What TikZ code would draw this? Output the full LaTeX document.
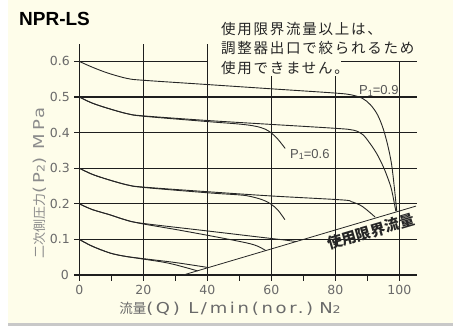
\documentclass[tikz,border=0pt]{standalone}
\usepackage{fontspec}
\setmainfont{Liberation Sans}
\newfontfamily\jp{Noto Sans CJK JP}
\newfontfamily\jpsp[LetterSpace=12]{Noto Sans CJK JP}
\newfontfamily\lab{DejaVu Sans}
\newfontfamily\labsp[LetterSpace=15]{DejaVu Sans}
\definecolor{cream}{HTML}{FEFDEA}
\definecolor{shadowc}{HTML}{C8C8C8}
\definecolor{gridc}{HTML}{1E1E1E}
\definecolor{curvec}{HTML}{262626}
\definecolor{labc}{HTML}{6A6A6A}
\definecolor{ylabc}{HTML}{8C8C8C}
\definecolor{notec}{HTML}{262626}
\begin{document}
\begin{tikzpicture}[x=1pt,y=-1pt,
  gridline/.style={line width=1.2pt, draw=gridc, line cap=rect},
  curve/.style={line width=0.9pt, draw=curvec, line cap=round},
  limitline/.style={line width=0.8pt, draw=curvec},
  ticklab/.style={text=labc, font=\lab\fontsize{12.5}{12.5}\selectfont, inner sep=0pt},
  plab/.style={text=labc!80!black, font=\fontsize{13}{13}\selectfont, inner sep=0pt}]
\useasboundingbox (0,0) rectangle (453,326);
\fill[white] (0,0) rectangle (453,326);
\fill[cream] (8,0) rectangle (453,323);
\fill[shadowc] (8,323) rectangle (453,326);

\begin{scope}[shift={(79.3pt,-275pt)}, x=3.2pt, y=356pt]
  % horizontal grid lines
  \foreach \v in {0.1,0.2,0.3,0.4,0.5}
    \draw[gridline] (-1.6,\v) -- (105.2,\v);
  \draw[gridline] (-1.6,0) -- (105.2,0);
  \draw[gridline] (-1.6,0.6) -- (40,0.6);
  \draw[gridline] (82.1,0.6) -- (105.2,0.6);
  % vertical grid lines
  \foreach \u in {0,20,40}
    \draw[gridline] (\u,-0.014) -- (\u,0.646);
  \foreach \u in {60,80}
    \draw[gridline] (\u,-0.014) -- (\u,0.557);
  \draw[gridline] (100,-0.014) -- (100,0.6);
  \foreach \u in {10,30,50,70,90}
    \draw[gridline] (\u,-0.014) -- (\u,0);
  % limit line
  \coordinate (limA) at (32.5,0);
  \coordinate (limB) at (105.2,0.1935);
  \draw[limitline] (limA) -- (limB);
  % curves
  \draw[curve] plot[smooth, tension=0.55] coordinates {(0,0.6) (4,0.584) (9,0.567) (15,0.552) (20,0.547) (40,0.535) (60,0.523) (80,0.511) (85,0.506) (88.5,0.496) (91,0.478) (93.2,0.450) (95,0.41) (96.5,0.36) (97.6,0.31) (98.4,0.25) (99.2,0.18)};
  \draw[curve] plot[smooth, tension=0.55] coordinates {(0,0.5) (4,0.483) (9,0.468) (15,0.453) (20,0.447) (40,0.434) (60,0.423) (80,0.412) (85.6,0.407) (88.5,0.395) (90.8,0.37) (93,0.34) (95,0.304) (96.5,0.27) (97.6,0.239) (98.9,0.18)};
  \draw[curve] plot[smooth, tension=0.55] coordinates {(0,0.5) (4,0.483) (9,0.468) (15,0.453) (20,0.446) (40,0.431) (50,0.424) (55,0.418) (58,0.41) (60,0.399) (62,0.382) (64.3,0.356)};
  \draw[curve] plot[smooth, tension=0.55] coordinates {(0,0.3) (4,0.283) (9,0.268) (15,0.253) (20,0.247) (40,0.234) (60,0.222) (82,0.211) (85,0.206) (88,0.195) (90.5,0.178) (92.4,0.163)};
  \draw[curve] plot[smooth, tension=0.55] coordinates {(0,0.3) (4,0.283) (9,0.268) (15,0.253) (20,0.246) (40,0.231) (50,0.225) (53.3,0.221) (57,0.212) (59.6,0.201) (62,0.183) (64.2,0.156)};
  \draw[curve] plot[smooth, tension=0.55] coordinates {(0,0.2) (4,0.184) (9.6,0.169) (14,0.156) (19,0.146) (39.8,0.124) (59.6,0.103) (63.5,0.099) (67.8,0.094)};
  \draw[curve] plot[smooth, tension=0.55] coordinates {(0,0.2) (4,0.184) (9.6,0.169) (14,0.156) (19,0.145) (30,0.128) (39.8,0.112) (48,0.098) (53.3,0.088) (56,0.08) (58.2,0.069)};
  \draw[curve] plot[smooth, tension=0.55] coordinates {(0,0.1) (4,0.081) (9.5,0.062) (14,0.053) (19,0.047) (30,0.035) (40.3,0.021)};
  \draw[curve] plot[smooth, tension=0.55] coordinates {(0,0.1) (4,0.081) (9.5,0.062) (14,0.053) (19,0.046) (28,0.033) (36.9,0.0117)};
\end{scope}

% title
\node[anchor=base west, inner sep=0pt, font=\bfseries\fontsize{19}{19}\selectfont] (title) at (19,26) {NPR-LS};
% annotation
\node[anchor=north west, inner sep=0pt, align=left, text=notec, font=\jpsp\fontsize{14.5}{19.6}\selectfont] (note) at (221,21.8) {使用限界流量以上は、\\調整器出口で絞られるため\\使用できません。};
% y tick labels
\node[ticklab, anchor=east] (y0) at (69,275) {0};
\node[ticklab, anchor=east] (y1) at (70,239.4) {0.1};
\node[ticklab, anchor=east] (y2) at (70,203.8) {0.2};
\node[ticklab, anchor=east] (y3) at (70,168.2) {0.3};
\node[ticklab, anchor=east] (y4) at (70,132.6) {0.4};
\node[ticklab, anchor=east] (y5) at (70,97) {0.5};
\node[ticklab, anchor=east] (y6) at (70,61.4) {0.6};
% x tick labels
\node[ticklab] (x0) at (79.3,289.5) {0};
\node[ticklab] (x20) at (143.3,289.5) {20};
\node[ticklab] (x40) at (207.3,289.5) {40};
\node[ticklab] (x60) at (271.3,289.5) {60};
\node[ticklab] (x80) at (335.3,289.5) {80};
\node[ticklab] (x100) at (399.3,289.5) {100};
% axis titles
\node[inner sep=0pt, text=labc] (xtitle) at (230,309) {{\jp\fontsize{13.5}{13.5}\selectfont 流量}\scalebox{1.2}[1]{\labsp\fontsize{15}{15}\selectfont (Q) L/min(nor.)}\hspace{6pt}\scalebox{1.2}[1]{\lab\fontsize{15}{15}\selectfont N{\fontsize{10.5}{10.5}\selectfont 2}}};
\node[inner sep=0pt, text=ylabc, rotate=90] (ytitle) at (40,182.5) {{\jp\fontsize{13}{13}\selectfont 二次側圧力}\scalebox{1.2}[1]{\labsp\fontsize{15}{15}\selectfont (P{\fontsize{10.5}{10.5}\selectfont 2}) MPa}};
% curve labels
\node[plab, anchor=base west] (p09) at (359,95) {P\raisebox{-1.5pt}{\fontsize{9}{9}\selectfont 1}=0.9};
\node[plab, anchor=base west] (p06) at (290,158.5) {P\raisebox{-1.5pt}{\fontsize{9}{9}\selectfont 1}=0.6};
% limit label
\node[inner sep=0pt, rotate=16.5, text=notec, font=\jp\bfseries\fontsize{15}{15}\selectfont] (limlab) at (370.7,231.7) {使用限界流量};
\end{tikzpicture}
\end{document}
